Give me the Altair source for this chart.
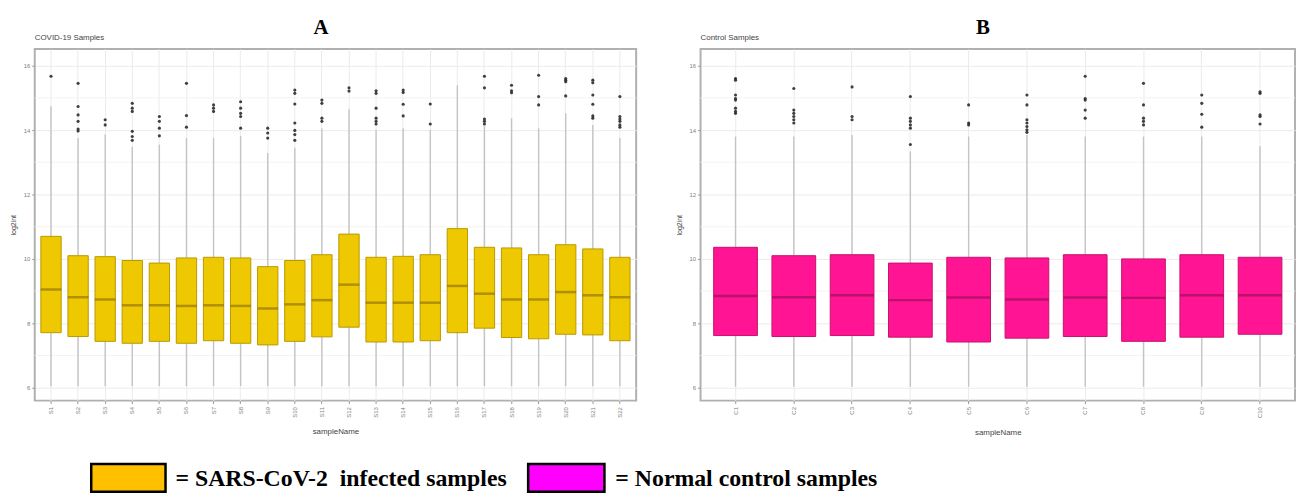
import altair as alt
import pandas as pd

# ---------------- data ----------------
a_samples = [f"S{i}" for i in range(1, 23)]
a_lower = [6.05, 6.05, 6.05, 6.05, 6.05, 6.05, 6.05, 6.05, 6.05, 6.05, 6.05,
           6.05, 6.05, 6.05, 6.05, 6.05, 6.05, 6.05, 6.05, 6.05, 6.05, 6.05]
a_q1 = [7.71, 7.59, 7.44, 7.38, 7.44, 7.38, 7.46, 7.38, 7.33, 7.44, 7.58,
        7.88, 7.42, 7.42, 7.46, 7.71, 7.85, 7.56, 7.52, 7.66, 7.64, 7.46]
a_median = [9.05, 8.81, 8.74, 8.56, 8.56, 8.54, 8.56, 8.54, 8.46, 8.59, 8.72,
            9.20, 8.64, 8.64, 8.64, 9.16, 8.92, 8.74, 8.74, 8.97, 8.87, 8.81]
a_q3 = [10.70, 10.10, 10.07, 9.95, 9.87, 10.03, 10.05, 10.03, 9.76, 9.95, 10.13,
        10.77, 10.05, 10.08, 10.13, 10.94, 10.36, 10.34, 10.13, 10.44, 10.31, 10.05]
a_upper = [14.74, 13.75, 13.86, 13.48, 13.55, 13.75, 13.75, 13.82, 13.29, 13.45, 14.06,
           14.65, 14.01, 14.06, 14.01, 15.39, 14.12, 14.37, 14.06, 14.52, 14.16, 13.75]
a_outliers = [
    [15.67],
    [15.45, 14.73, 14.47, 14.27, 14.03, 13.97],
    [14.32, 14.16],
    [14.83, 14.68, 14.58, 13.96, 13.80, 13.68],
    [14.42, 14.27, 14.06, 13.82],
    [15.45, 14.45, 14.09],
    [14.78, 14.68, 14.58],
    [14.88, 14.68, 14.52, 14.42, 14.06],
    [14.06, 13.91, 13.75],
    [15.24, 15.14, 14.81, 14.22, 13.99, 13.86, 13.68],
    [14.93, 14.83, 14.37, 14.27],
    [15.31, 15.21],
    [15.22, 15.14, 14.68, 14.37, 14.27, 14.19],
    [15.24, 15.17, 14.80, 14.44],
    [14.81, 14.19],
    [],
    [15.67, 15.31, 14.34, 14.27, 14.19],
    [15.39, 15.22, 15.16],
    [15.70, 15.04, 14.78],
    [15.60, 15.55, 15.50, 15.06],
    [15.55, 15.47, 15.09, 14.80, 14.44, 14.37],
    [15.04, 14.42, 14.34, 14.27, 14.16, 14.09],
]

b_samples = [f"C{i}" for i in range(1, 11)]
b_lower = [6.03, 6.03, 6.03, 6.03, 6.03, 6.03, 6.03, 6.03, 6.03, 6.03]
b_q1 = [7.62, 7.59, 7.62, 7.57, 7.42, 7.54, 7.59, 7.44, 7.57, 7.66]
b_median = [8.85, 8.81, 8.87, 8.72, 8.80, 8.74, 8.80, 8.79, 8.87, 8.87]
b_q3 = [10.36, 10.10, 10.13, 9.87, 10.05, 10.03, 10.13, 10.00, 10.13, 10.05]
b_upper = [13.80, 13.80, 13.85, 13.34, 13.80, 13.85, 13.80, 13.80, 13.80, 13.50]
b_outliers = [
    [15.60, 15.55, 15.09, 14.98, 14.93, 14.68, 14.58, 14.52],
    [15.29, 14.62, 14.52, 14.42, 14.32, 14.22],
    [15.34, 14.42, 14.32],
    [15.04, 14.37, 14.27, 14.16, 14.06, 13.55],
    [14.78, 14.22, 14.16],
    [15.09, 14.78, 14.32, 14.22, 14.11, 14.01, 13.93],
    [15.67, 14.98, 14.93, 14.62, 14.37],
    [15.45, 14.78, 14.37, 14.27, 14.16],
    [15.09, 14.83, 14.49, 14.09],
    [15.19, 15.14, 14.47, 14.42, 14.19],
]

y_ticks = [6, 8, 10, 12, 14, 16]
y_minor = [7, 9, 11, 13, 15]

legend_labels = ["= SARS-CoV-2\u00a0 infected samples", "= Normal control samples"]
legend_colors = ["#FFC000", "#FF00FF"]

# ---------------- helpers ----------------
Y_DOMAIN = [5.6, 16.52]
H = 355


def panel(samples, lower, q1, med, q3, upper, outliers, fill, edge, median_col,
          width, box_w, letter, letter_x, subtitle):
    stats = pd.DataFrame({"sample": samples, "lower": lower, "q1": q1,
                          "median": med, "q3": q3, "upper": upper})
    out = pd.DataFrame([{"sample": s, "value": v}
                        for s, vs in zip(samples, outliers) for v in vs])
    minor = pd.DataFrame({"m": y_minor})

    xscale = alt.Scale(paddingInner=0.25, paddingOuter=0.225)
    xenc = alt.X("sample:N", sort=samples, scale=xscale,
                 axis=alt.Axis(title="sampleName", labelAngle=270, labelFontSize=6,
                               labelColor="#808080", labelAlign="right",
                               labelBaseline="middle", tickColor="#999999",
                               tickSize=3, grid=True, gridColor="#EBEBEB",
                               domain=False, titleFontSize=8,
                               titleFontWeight="normal", titleColor="#444444",
                               titlePadding=11, labelPadding=3))
    yscale = alt.Scale(domain=Y_DOMAIN, nice=False, zero=False)
    yaxis = alt.Axis(title="log2int", values=y_ticks, labelFontSize=6,
                     labelColor="#808080", tickColor="#999999", tickSize=3,
                     grid=True, gridColor="#EBEBEB", domain=False,
                     titleFontSize=7, titleFontWeight="normal",
                     titleColor="#444444", titlePadding=7, labelPadding=2)

    base = alt.Chart(stats)
    minor_rules = alt.Chart(minor).mark_rule(color="#F3F3F3", strokeWidth=1).encode(
        y=alt.Y("m:Q", scale=yscale, axis=yaxis))
    whisk = base.mark_rule(color="#C4C4C4", strokeWidth=1.4).encode(
        x=xenc, y=alt.Y("lower:Q", scale=yscale, axis=yaxis), y2="upper:Q")
    box = base.mark_bar(fill=fill, stroke=edge, strokeWidth=1).encode(
        x=xenc, y=alt.Y("q1:Q", scale=yscale, axis=yaxis), y2="q3:Q")
    mid = base.mark_tick(color=median_col, thickness=2.5, size=box_w).encode(
        x=xenc, y=alt.Y("median:Q", scale=yscale, axis=yaxis))
    pts = alt.Chart(out).mark_circle(size=10, color="#2b2b2b", opacity=0.9).encode(
        x=alt.X("sample:N", sort=samples, scale=xscale),
        y=alt.Y("value:Q", scale=yscale, axis=yaxis))
    sub = alt.Chart(pd.DataFrame({"t": [subtitle]})).mark_text(
        align="left", baseline="alphabetic", fontSize=8, color="#444444",
        font="Liberation Sans").encode(
        text="t:N", x=alt.value(0), y=alt.value(-9))
    let = alt.Chart(pd.DataFrame({"t": [letter]})).mark_text(
        align="center", baseline="middle", fontSize=21, fontWeight="bold",
        color="black", font="Liberation Serif").encode(
        text="t:N", x=alt.value(letter_x), y=alt.value(-21))

    return alt.layer(minor_rules, whisk, box, mid, pts, sub, let).properties(
        width=width, height=H)


pa = panel(a_samples, a_lower, a_q1, a_median, a_q3, a_upper, a_outliers,
           "#EEC800", "#B89A00", "#957800", 607, 21, "A", 289, "COVID-19 Samples")
pb = panel(b_samples, b_lower, b_q1, b_median, b_q3, b_upper, b_outliers,
           "#FF1493", "#C8106E", "#A0105A", 600, 44, "B", 285, "Control Samples")

top = alt.hconcat(pa, pb, spacing=36).resolve_scale(x="independent")

leg_df = pd.DataFrame({"label": legend_labels, "color": legend_colors})
sw_x = [(57, 132), (498, 575)]
tx_x = [142, 586]
leg_layers = []
for lab, col, (x0, x1), tx in zip(legend_labels, legend_colors, sw_x, tx_x):
    d = alt.Chart(leg_df).transform_filter(alt.datum.label == lab)
    leg_layers.append(d.mark_rect(fill=col, stroke="black", strokeWidth=2.5).encode(
        x=alt.value(x0), x2=alt.value(x1), y=alt.value(3), y2=alt.value(31)))
    leg_layers.append(d.mark_text(align="left", baseline="middle",
                                  font="Liberation Serif", fontSize=24,
                                  fontWeight="bold", color="black").encode(
        text="label:N", x=alt.value(tx), y=alt.value(18)))
legend = alt.layer(*leg_layers).properties(
    width=1240, height=34, view=alt.ViewBackground(stroke=None))

chart = alt.vconcat(top, legend, spacing=23).properties(
    padding={"left": 0, "top": 6, "right": 0, "bottom": 0}
).configure_view(stroke="#B0B0B0", strokeWidth=2).configure_axis(
    labelFont="Liberation Sans", titleFont="Liberation Sans"
)

chart.save("out.html", embed_options={"renderer": "svg", "actions": False})
